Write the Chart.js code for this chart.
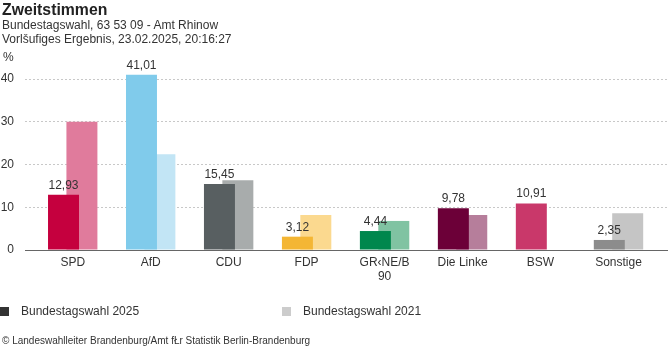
<!DOCTYPE html>
<html lang="de">
<head>
<meta charset="utf-8">
<title>Zweitstimmen</title>
<script src="https://cdn.jsdelivr.net/npm/chart.js@4/dist/chart.umd.min.js"></script>
<style>
  body { margin: 0; background: #fff; font-family: "Liberation Sans", Arial, sans-serif; color: #333; }
  #wrap { position: relative; width: 668px; height: 352px; overflow: hidden; }
  #chart { position: absolute; left: 0; top: 0; }
  .txt { position: absolute; white-space: nowrap; }
  #titel { left: 2px; top: 0; font-size: 15.8px; line-height: 19px; font-weight: bold; color: #222; }
  #unter { left: 2px; top: 18px; font-size: 12px; line-height: 14px; }
  #einheit { left: 3px; top: 50px; font-size: 12px; line-height: 14px; }
  #legende { left: 0; top: 304px; width: 668px; height: 14px; font-size: 12px; }
  .leg { position: absolute; top: 0; line-height: 14px; }
  .leg span { position: absolute; left: 0; top: 3px; width: 9px; height: 9px; }
  #quelle { left: 2px; top: 334px; font-size: 10px; line-height: 14px; }
</style>
</head>
<body>
<div id="wrap">
  <canvas id="chart" width="668" height="352"></canvas>
  <div class="txt" id="titel">Zweitstimmen</div>
  <div class="txt" id="unter">Bundestagswahl, 63 53 09 - Amt Rhinow<br>Vorlšufiges Ergebnis, 23.02.2025, 20:16:27</div>
  <div class="txt" id="einheit">%</div>
  <div class="txt" id="legende"></div>
  <div class="txt" id="quelle">© Landeswahlleiter Brandenburg/Amt fŁr Statistik Berlin-Brandenburg</div>
</div>
<script>
// Parteien und Ergebnisse (Prozent)
const parteien = ["SPD", "AfD", "CDU", "FDP", ["GR‹NE/B", "90"], "Die Linke", "BSW", "Sonstige"];
const werte2025 = [12.93, 41.01, 15.45, 3.12, 4.44, 9.78, 10.91, 2.35];
const werte2021 = [30.0, 22.4, 16.3, 8.2, 6.8, 8.2, null, 8.6];
const yTicks = [0, 10, 20, 30, 40];
const serien = ["Bundestagswahl 2025", "Bundestagswahl 2021"];

const farben2025 = ["#c5003e", "#80cbeb", "#585f61", "#f4b634", "#00874d", "#6c0038", "#c9386a", "#8c8c8c"];
const farben2021 = ["#e07b9c", "#c2e5f5", "#a8acac", "#fbd98f", "#80c3a2", "#b67e9b", "#e49cb5", "#c5c5c5"];
const legendFarben = ["#333333", "#cccccc"];
const legendX = [0, 282];

Chart.defaults.font.family = "'Liberation Sans', Arial, sans-serif";
Chart.defaults.color = "#333";

function punkte(werte) {
    return werte.map((v, i) => ({ x: i, y: v }));
}

function zahl(v) {
    return v.toFixed(2).replace(".", ",");
}

// Werte über den 2025er Balken
const wertLabels = {
    id: "wertLabels",
    afterDatasetsDraw(chart) {
        const ctx = chart.ctx;
        const meta = chart.getDatasetMeta(0);
        ctx.save();
        ctx.font = "12px 'Liberation Sans', Arial, sans-serif";
        ctx.fillStyle = "#333";
        ctx.textAlign = "center";
        ctx.textBaseline = "alphabetic";
        meta.data.forEach((bar, i) => {
            if (werte2025[i] == null) return;
            ctx.fillText(zahl(werte2025[i]), bar.x, bar.y - 6);
        });
        ctx.restore();
    }
};

const chart = new Chart(document.getElementById("chart"), {
    type: "bar",
    data: {
        datasets: [
            { label: serien[0], data: punkte(werte2025), backgroundColor: farben2025 },
            { label: serien[1], data: punkte(werte2021), backgroundColor: farben2021 }
        ]
    },
    options: {
        responsive: false,
        animation: false,
        categoryPercentage: 0.472,
        barPercentage: 1.684,
        layout: { padding: { top: 62, bottom: 62, left: 0, right: 0 } },
        plugins: {
            legend: { display: false },
            tooltip: { enabled: false }
        },
        scales: {
            x: {
                type: "linear",
                offset: false,
                min: -0.612,
                max: 7.635,
                grid: { display: false, offset: false, drawTicks: false, tickLength: 0 },
                border: { display: true, color: "#666", width: 1 },
                afterBuildTicks: s => { s.ticks = parteien.map((p, i) => ({ value: i })); },
                afterFit: s => { s.height = 40; },
                ticks: {
                    autoSkip: false,
                    maxRotation: 0,
                    padding: 5.5,
                    font: { size: 12, lineHeight: 14 / 12 },
                    color: "#333",
                    callback: (v, i) => parteien[i]
                }
            },
            y: {
                min: 0,
                max: 44,
                grid: { color: "#c8c8c8", drawTicks: false, tickLength: 0 },
                border: { display: false, dash: [2, 2] },
                afterBuildTicks: s => { s.ticks = yTicks.map(v => ({ value: v })); },
                afterFit: s => { s.width = 25; },
                ticks: { padding: 11, font: { size: 12 }, color: "#333" }
            }
        }
    },
    plugins: [wertLabels]
});

// Legende als HTML, aus den Datensätzen
const legende = document.getElementById("legende");
chart.data.datasets.forEach((ds, i) => {
    const item = document.createElement("div");
    item.className = "leg";
    item.style.left = legendX[i] + "px";
    item.style.paddingLeft = "21px";
    const box = document.createElement("span");
    box.style.background = legendFarben[i];
    item.appendChild(box);
    item.appendChild(document.createTextNode(ds.label));
    legende.appendChild(item);
});
</script>
</body>
</html>
